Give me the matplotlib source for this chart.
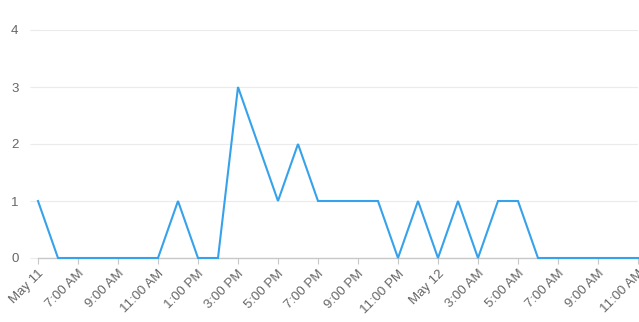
import matplotlib
matplotlib.use('Agg')
import matplotlib.pyplot as plt

plt.rcParams['font.family'] = ['Liberation Sans', 'DejaVu Sans']

# hourly counts, May 11 05:00 .. May 12 11:00
counts = [1, 0, 0, 0, 0, 0, 0, 1, 0, 0, 3, 2, 1, 2, 1, 1, 1, 1, 0, 1, 0, 1, 0, 1, 1, 0,
          0, 0, 0, 0, 0]
tick_labels = ['May 11', '7:00 AM', '9:00 AM', '11:00 AM', '1:00 PM', '3:00 PM', '5:00 PM',
               '7:00 PM', '9:00 PM', '11:00 PM', 'May 12', '3:00 AM', '5:00 AM', '7:00 AM',
               '9:00 AM', '11:00 AM']
y_ticks = [0, 1, 2, 3, 4]

W, H = 639, 322
fig = plt.figure(figsize=(W / 100, H / 100), dpi=100)
ax = fig.add_axes([38 / W, (H - 258) / H, 600 / W, 228 / H])

x = list(range(len(counts)))
ax.plot(x, counts, color='#36a2eb', lw=1.5, solid_joinstyle='miter', clip_on=False, zorder=3)

ax.set_xlim(0, len(counts) - 1)
ax.set_ylim(0, 4)
ax.set_yticks(y_ticks)
ax.set_yticklabels([str(v) for v in y_ticks])
ax.set_xticks(list(range(0, len(counts), 2)))
ax.set_xticklabels(tick_labels, rotation=45, ha='right', rotation_mode='anchor')

ax.grid(axis='y', color='#ebebeb', lw=0.8)
ax.set_axisbelow(True)
for s in ['top', 'right', 'left']:
    ax.spines[s].set_visible(False)
ax.spines['bottom'].set_color('#c8c8c8')
ax.spines['bottom'].set_linewidth(1.0)

ax.tick_params(axis='y', length=6, color='#ebebeb', labelcolor='#666666', labelsize=9.5, pad=8)
ax.tick_params(axis='x', length=4, color='#c8c8c8', labelcolor='#666666', labelsize=9.5, pad=3)

fig.savefig('out.png', dpi=100)
